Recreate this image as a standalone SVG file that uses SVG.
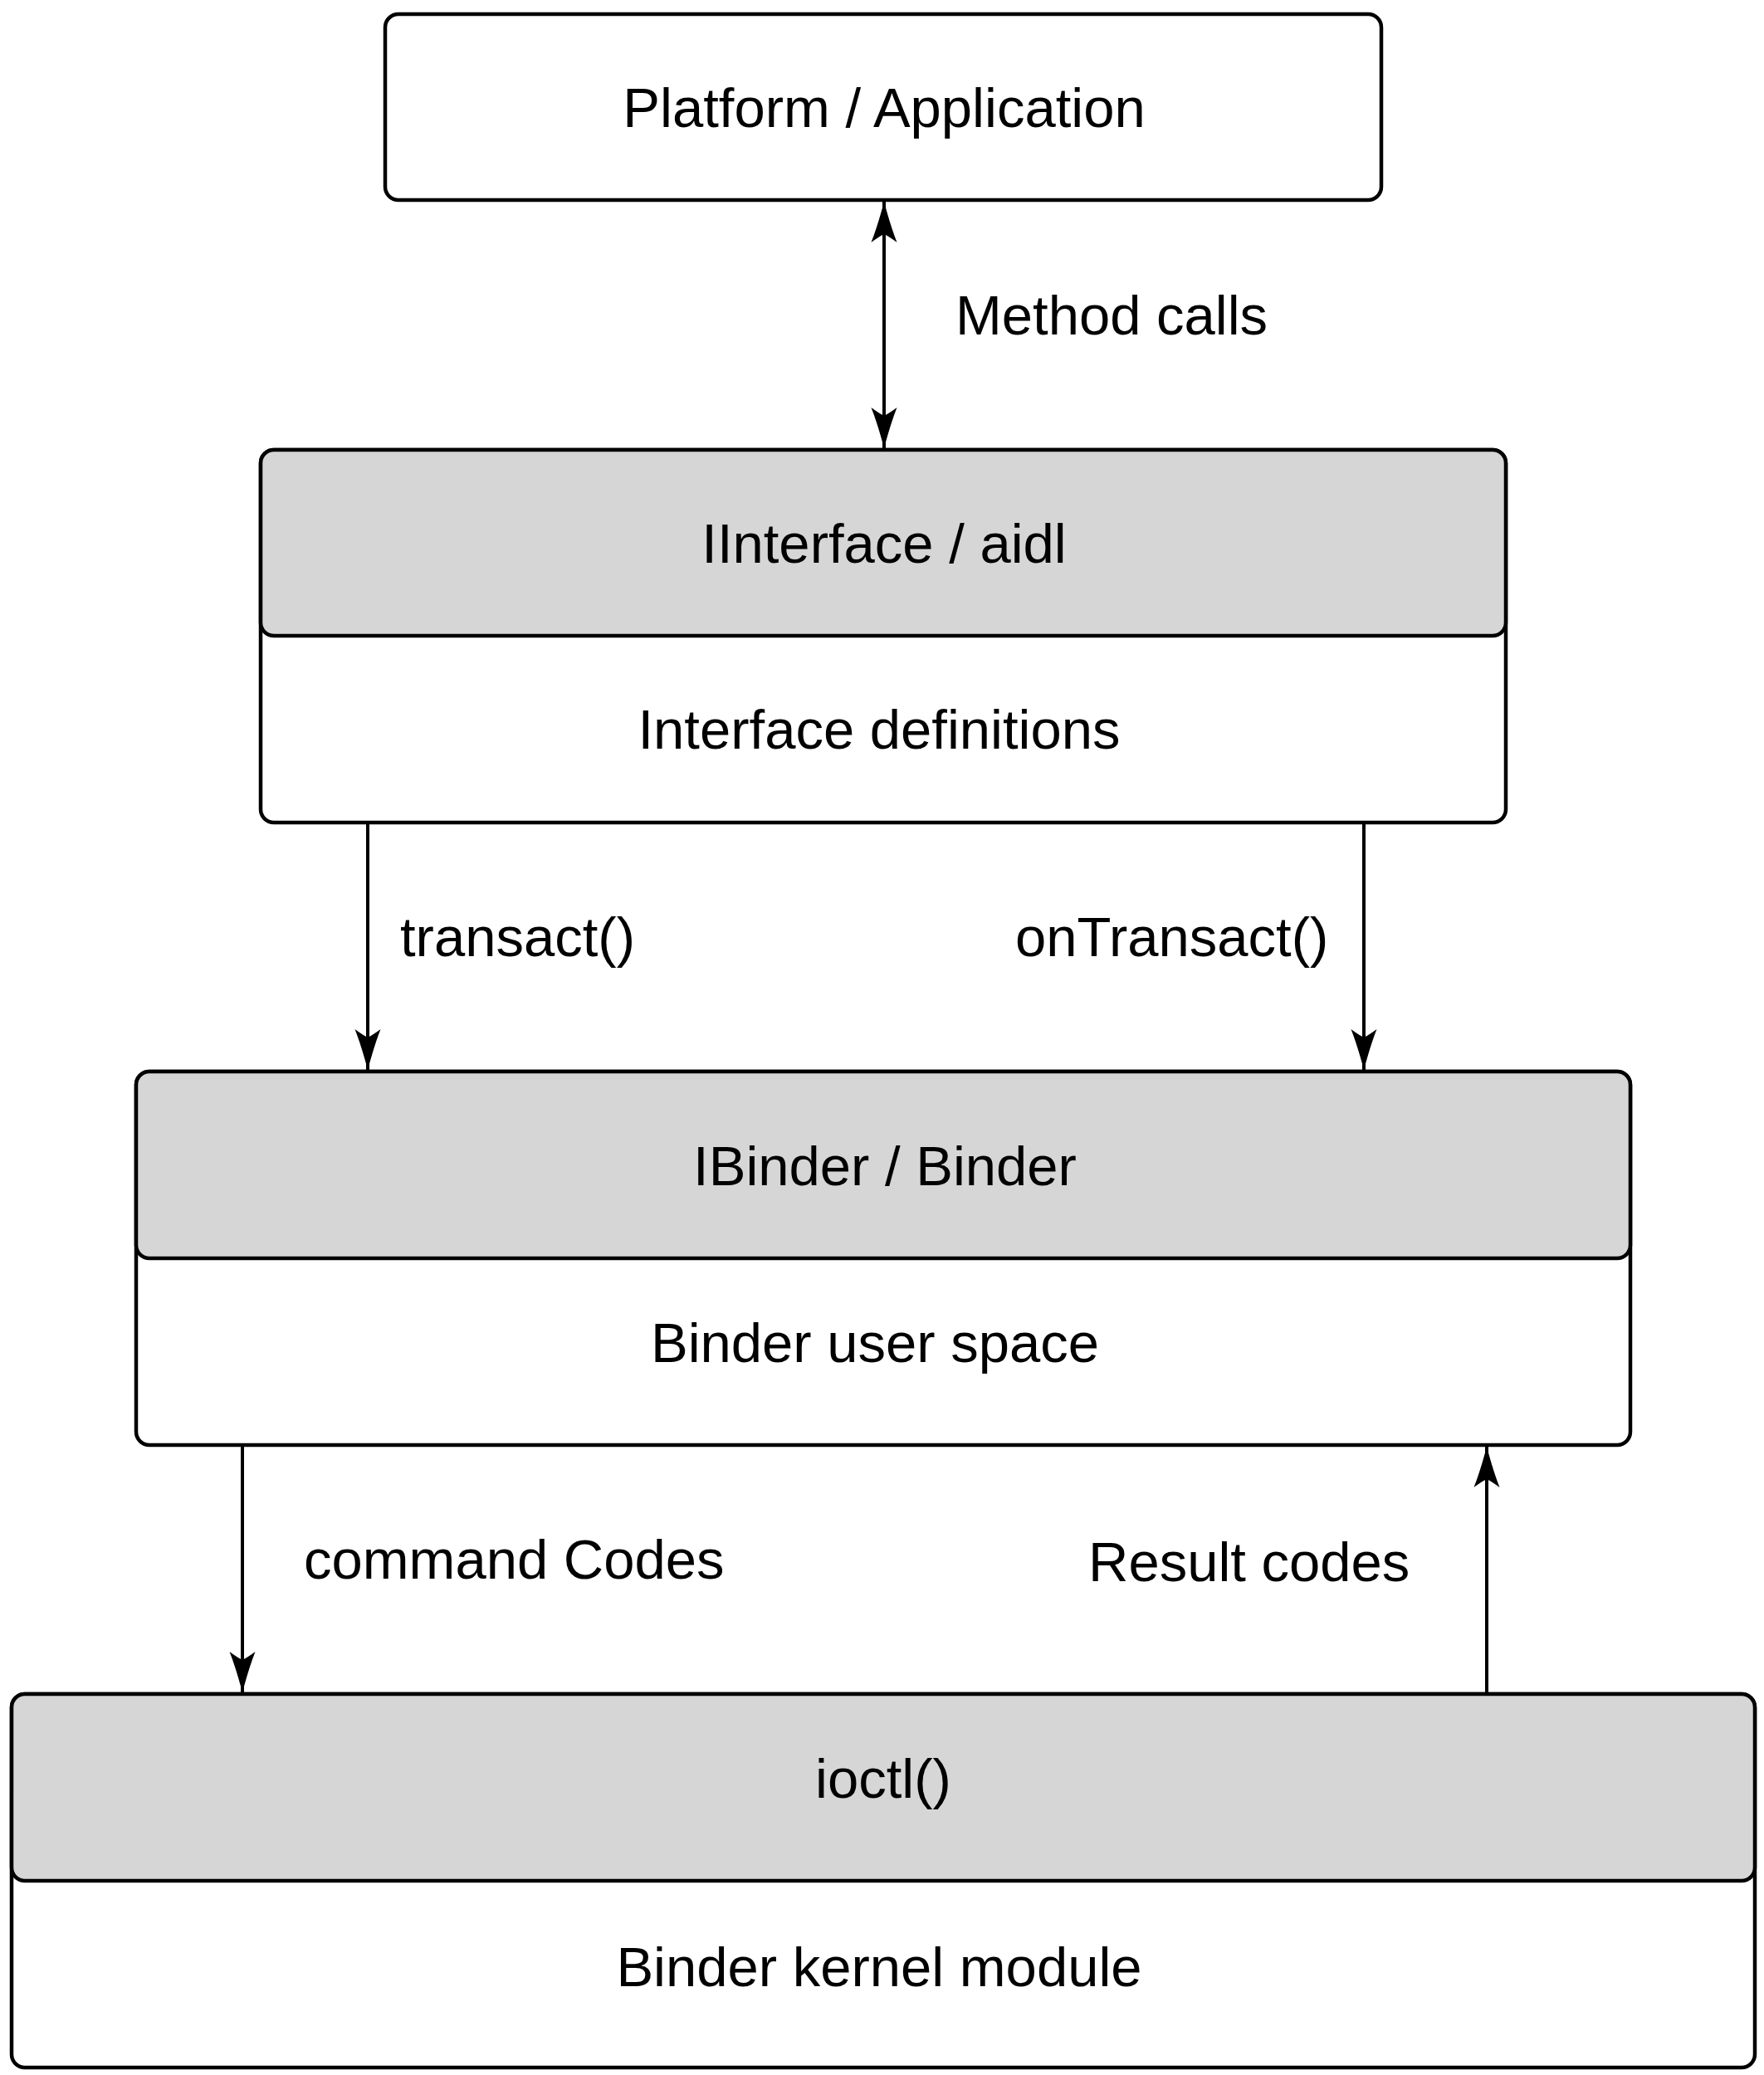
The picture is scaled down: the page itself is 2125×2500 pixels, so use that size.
<svg xmlns="http://www.w3.org/2000/svg" width="2125" height="2500" viewBox="0 0 2125 2500">
<style>
.box{fill:#ffffff;stroke:#000;stroke-width:4.5}
.hdr{fill:#d6d6d6;stroke:#000;stroke-width:4.5}
.t{font-family:"Liberation Sans",Arial,Helvetica,sans-serif;font-size:67px;fill:#000}
.c{text-anchor:middle}
.ln{stroke:#000;stroke-width:4;fill:none}
</style>
<defs>
<marker id="ah" viewBox="-52 -18 54 36" refX="0" refY="0" markerWidth="54" markerHeight="36" markerUnits="userSpaceOnUse" orient="auto-start-reverse">
<path d="M0,0 Q-30,-8 -49,-15.5 Q-42,-6 -39,0 Q-42,6 -49,15.5 Q-30,8 0,0 Z" fill="#000"/>
</marker>
</defs>
<g id="connectors">
<line class="ln" x1="1065" y1="243" x2="1065" y2="540" marker-start="url(#ah)" marker-end="url(#ah)"/>
<line class="ln" x1="443" y1="993" x2="443" y2="1289" marker-end="url(#ah)"/>
<line class="ln" x1="1643" y1="993" x2="1643" y2="1289" marker-end="url(#ah)"/>
<line class="ln" x1="292" y1="1743" x2="292" y2="2039" marker-end="url(#ah)"/>
<line class="ln" x1="1791" y1="2039" x2="1791" y2="1743" marker-end="url(#ah)"/>
<text class="t" x="1151" y="403">Method calls</text>
<text class="t" x="482" y="1152">transact()</text>
<text class="t" x="1223" y="1152">onTransact()</text>
<text class="t" x="366" y="1902">command Codes</text>
<text class="t" x="1311" y="1905">Result codes</text>
</g>
<g id="platform">
<rect class="box" x="464" y="17" width="1200" height="224" rx="16"/>
<text class="t c" x="1065" y="153">Platform / Application</text>
</g>
<g id="iinterface">
<rect class="box" x="314" y="542" width="1500" height="449" rx="16"/>
<rect class="hdr" x="314" y="542" width="1500" height="224" rx="16"/>
<text class="t c" x="1065" y="678">IInterface / aidl</text>
<text class="t c" x="1059" y="902">Interface definitions</text>
</g>
<g id="ibinder">
<rect class="box" x="164" y="1291" width="1800" height="450" rx="16"/>
<rect class="hdr" x="164" y="1291" width="1800" height="225" rx="16"/>
<text class="t c" x="1066" y="1428">IBinder / Binder</text>
<text class="t c" x="1054" y="1641">Binder user space</text>
</g>
<g id="ioctl">
<rect class="box" x="14" y="2041" width="2100" height="450" rx="16"/>
<rect class="hdr" x="14" y="2041" width="2100" height="225" rx="16"/>
<text class="t c" x="1064" y="2166">ioctl()</text>
<text class="t c" x="1059" y="2393">Binder kernel module</text>
</g>
</svg>
